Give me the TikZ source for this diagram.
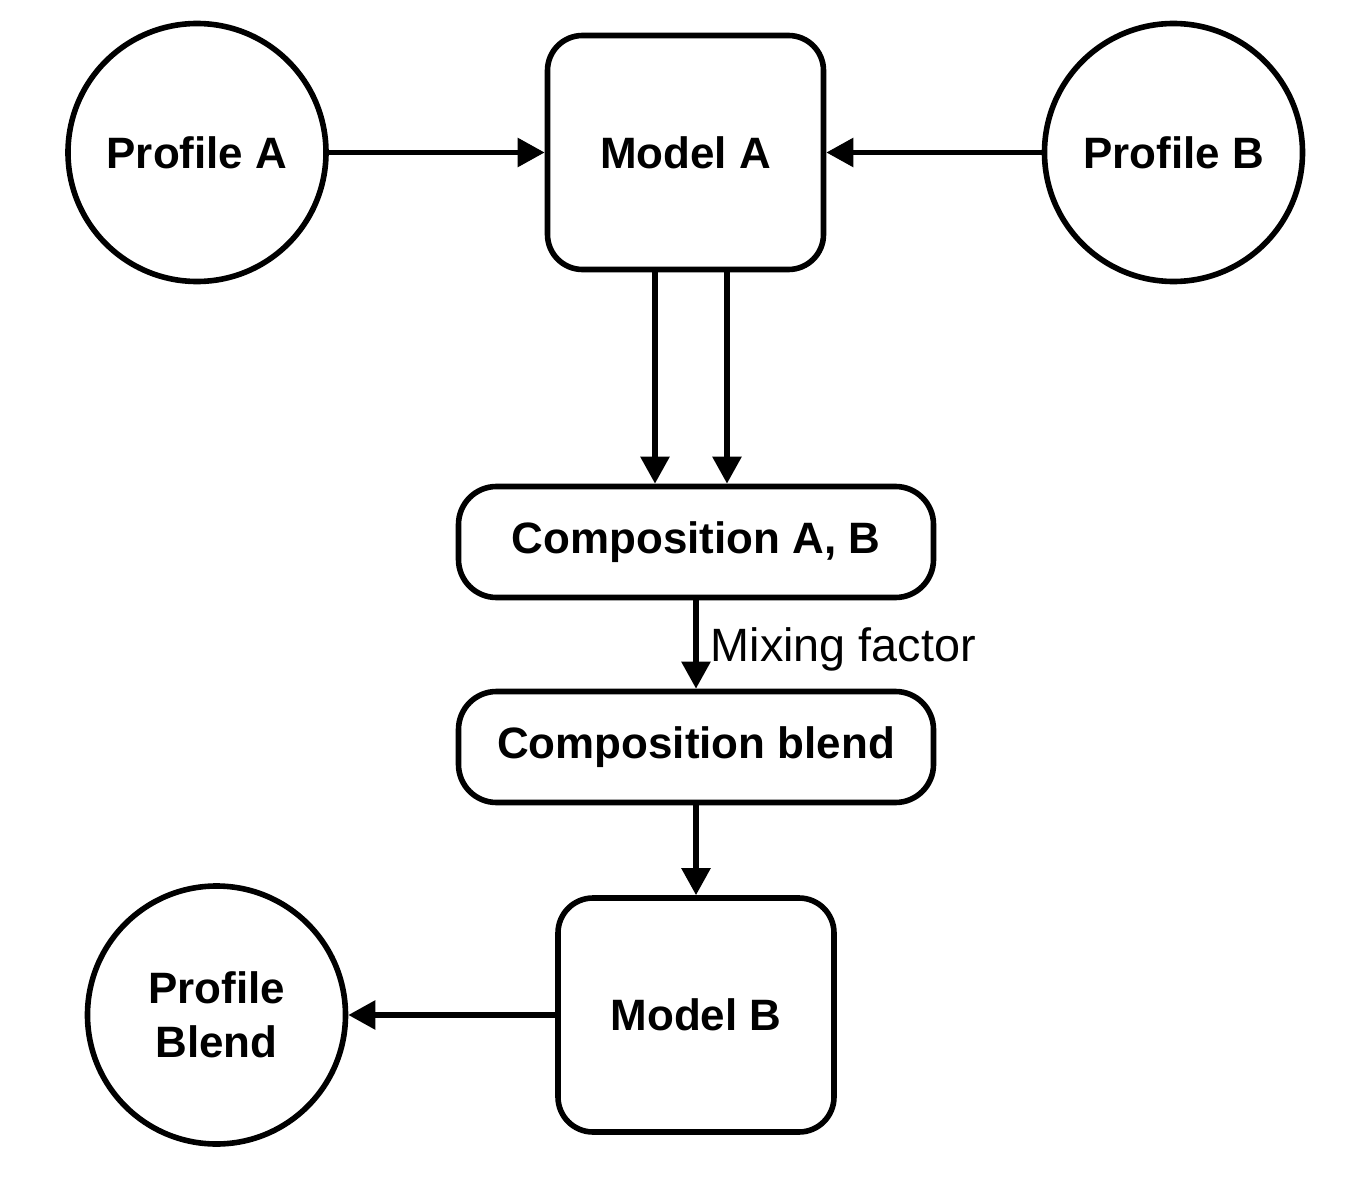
\documentclass[tikz,border=0pt]{standalone}
\usepackage{fontspec}
\setmainfont{Liberation Sans}
\usepackage{tikz}
\usetikzlibrary{arrows.meta}

\begin{document}
\begin{tikzpicture}[node distance=2.5cm, line width=0.056cm,
    >={Triangle[length=0.27cm,width=0.28cm]},
    profile/.style={draw, circle, minimum size=2.58cm, inner sep=0pt, align=center, font=\fontsize{12.5}{15.5}\selectfont\bfseries},
    model/.style={draw, rectangle, rounded corners=0.35cm, minimum width=2.76cm, minimum height=2.34cm, font=\fontsize{12.5}{15}\selectfont\bfseries},
    stage/.style={draw, rectangle, rounded corners=0.38cm, minimum width=4.75cm, minimum height=1.11cm, font=\fontsize{12.5}{15}\selectfont\bfseries}]
    \useasboundingbox (0,0) rectangle (13.68,-11.78);

    \node (modela) [model] at (6.855,-1.525) {Model A};
    \node (profilea) [profile, node distance=4.885cm, left of=modela] {Profile A};
    \node (profileb) [profile, node distance=4.88cm, right of=modela] {Profile B};
    \node (compab) [stage, node distance=3.895cm, below of=modela, xshift=0.105cm] {Composition A, B};
    \node (blend) [stage, node distance=2.05cm, below of=compab] {Composition blend};
    \node (modelb) [model, node distance=2.68cm, below of=blend] {Model B};
    \node (profileblend) [profile, node distance=4.795cm, left of=modelb] {Profile\\Blend};

    \draw[->] (profilea) -- (modela);
    \draw[->] (profileb) -- (modela);
    \draw[->] ([xshift=-0.305cm]modela.south) -- ([xshift=-0.305cm]modela.south |- compab.north);
    \draw[->] ([xshift=0.415cm]modela.south) -- ([xshift=0.415cm]modela.south |- compab.north);
    \draw[->] (compab) -- node[right, pos=0.55, inner sep=0.12cm, font=\fontsize{13.3}{15}\selectfont] {Mixing factor} (blend);
    \draw[->] (blend) -- (modelb);
    \draw[->] (modelb) -- (profileblend);
\end{tikzpicture}
\end{document}
